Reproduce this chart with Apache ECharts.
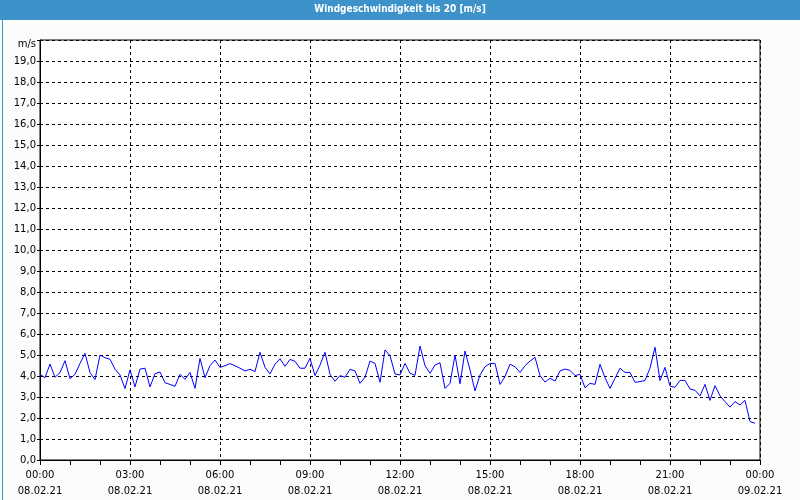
<!DOCTYPE html>
<html>
<head>
<meta charset="utf-8">
<script src="https://cdn.jsdelivr.net/npm/echarts@6/dist/echarts.min.js"></script>
<style>html,body{margin:0;padding:0;background:#fbfdfb;}#c{width:800px;height:500px;}</style>
</head>
<body>
<div id="c"></div>
<script>
// 10-minute samples from 08.02.21 00:00 to 23:50
const title = 'Windgeschwindigkeit bis 20 [m/s]';
const unit = 'm/s';
const startDate = '08.02.21';
const endDate = '09.02.21';
const stepMinutes = 10;
const windSpeed = [
  4.08, 3.92, 4.57, 3.94, 4.16, 4.73, 3.87, 4.08, 4.6, 5.08, 4.16, 3.83, 5.0, 4.87, 4.8, 4.32, 4.05, 3.4, 4.29, 3.48, 4.33, 4.37, 3.48, 4.11, 4.19,
  3.68, 3.6, 3.51, 4.08, 3.84, 4.17, 3.41, 4.84, 3.92, 4.49, 4.76, 4.41, 4.49, 4.59, 4.49, 4.37, 4.24, 4.32, 4.21, 5.13, 4.41, 4.1, 4.56, 4.82,
  4.46, 4.79, 4.7, 4.37, 4.37, 4.84, 4.02, 4.52, 5.13, 4.08, 3.75, 4.02, 3.94, 4.32, 4.24, 3.65, 3.94, 4.71, 4.6, 3.7, 5.24, 4.97, 4.1, 4.05,
  4.6, 4.13, 4.03, 5.43, 4.49, 4.13, 4.52, 4.63, 3.41, 3.65, 5.0, 3.63, 5.19, 4.29, 3.29, 4.05, 4.44, 4.6, 4.6, 3.6, 3.97, 4.56, 4.44, 4.17,
  4.49, 4.71, 4.89, 4.02, 3.71, 3.89, 3.76, 4.24, 4.33, 4.27, 4.02, 4.08, 3.44, 3.65, 3.6, 4.56, 3.92, 3.41, 3.89, 4.37, 4.17, 4.17, 3.7, 3.73,
  3.79, 4.37, 5.37, 3.78, 4.41, 3.52, 3.46, 3.79, 3.79, 3.38, 3.32, 3.05, 3.6, 2.84, 3.54, 3.06, 2.78, 2.52, 2.78, 2.62, 2.84, 1.83, 1.75
];
const xTickHours = ['00:00','03:00','06:00','09:00','12:00','15:00','18:00','21:00','00:00'];

const seriesData = windSpeed.map((v, i) => [i * stepMinutes, v]);
const font = 'DejaVu Sans, Verdana, sans-serif';

const chart = echarts.init(document.getElementById('c'), null, {renderer: 'canvas'});
chart.setOption({
  backgroundColor: '#fbfdfb',
  animation: false,
  graphic: [
    {type: 'rect', left: 0, top: 0, shape: {width: 800, height: 20}, style: {fill: '#3d92c9'}, silent: true},
    {type: 'rect', left: 0, top: 0, shape: {x: 0.5, y: 0.5, width: 799, height: 499}, style: {fill: 'none', stroke: '#3d92c9', lineWidth: 1}, silent: true},
    {type: 'text', left: 'center', top: 4, style: {text: title, fill: '#ffffff', font: 'bold 10px "DejaVu Sans Condensed", "Liberation Sans", sans-serif'}, silent: true}
  ],
  grid: {left: 40, right: 40, top: 40, bottom: 40, show: true, borderColor: '#000', borderWidth: 1, backgroundColor: '#ffffff'},
  xAxis: {
    type: 'value', min: 0, max: 1440, interval: 180,
    axisLine: {show: true, lineStyle: {color: '#000', width: 1}},
    axisTick: {show: true, length: 5, lineStyle: {color: '#000'}},
    minorTick: {show: true, splitNumber: 3, length: 5, lineStyle: {color: '#000'}},
    splitLine: {show: true, lineStyle: {color: '#000', type: [3, 3], width: 1}},
    axisLabel: {
      margin: 7, color: '#000', fontFamily: font, fontSize: 10, lineHeight: 16,
      formatter: function (v) {
        const idx = Math.round(v / 180);
        return xTickHours[idx] + '\n' + (v >= 1440 ? endDate : startDate);
      }
    }
  },
  yAxis: {
    type: 'value', min: 0, max: 20, interval: 1,
    axisLine: {show: true, lineStyle: {color: '#000', width: 1}},
    axisTick: {show: true, length: 3, lineStyle: {color: '#000'}},
    splitLine: {show: true, lineStyle: {color: '#000', type: [3, 3], width: 1}},
    axisLabel: {
      margin: 4, color: '#000', fontFamily: font, fontSize: 10,
      formatter: function (v) { return v >= 20 ? '{u|' + unit + '}' : v.toFixed(1).replace('.', ','); },
      rich: {u: {color: '#000', fontFamily: font, fontSize: 10, padding: [8, 0, 0, 0]}}
    }
  },
  series: [{
    type: 'line', data: seriesData, showSymbol: false, symbol: 'none',
    lineStyle: {color: '#0000ff', width: 1}, z: 5
  }]
});
</script>
</body>
</html>
